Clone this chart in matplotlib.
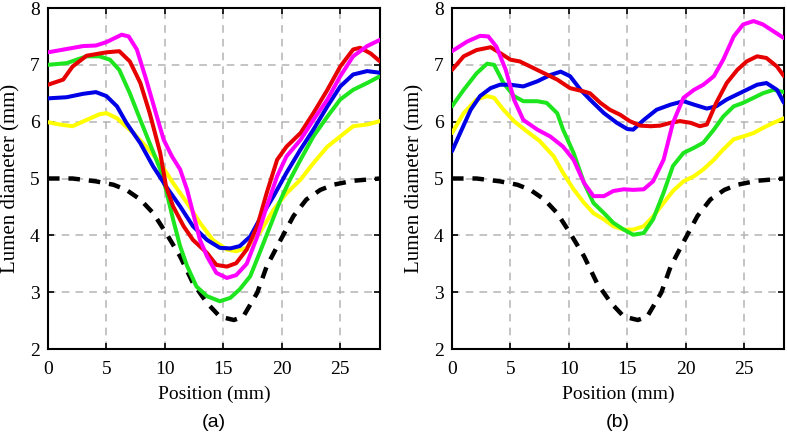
import matplotlib
matplotlib.use("Agg")
import matplotlib.pyplot as plt

# ---------------- data: panel (a) ----------------
a_mag_x = [0, 3, 4.1, 5, 6.3, 6.9, 7.6, 8.4, 9.3, 9.9, 10.6, 11.3, 11.9, 12.4, 13, 13.6, 14.4, 15.3, 16.1, 17, 17.9, 18.7, 19.6, 20.4, 21.6, 22.7, 23.9, 25, 26.1, 27.3, 28.4]
a_mag_y = [7.22, 7.33, 7.34, 7.4, 7.53, 7.5, 7.27, 6.74, 6.1, 5.68, 5.39, 5.16, 4.8, 4.4, 3.92, 3.63, 3.34, 3.25, 3.3, 3.5, 3.98, 4.5, 5.04, 5.39, 5.68, 6.03, 6.39, 6.8, 7.15, 7.33, 7.44]

a_red_x = [0, 1.3, 2.1, 3.3, 5, 6.1, 7, 7.9, 8.7, 9.6, 10.1, 10.7, 11.6, 12.4, 13.6, 14.4, 15.3, 16.1, 17, 17.9, 18.7, 19.6, 20.4, 21.6, 22.7, 23.9, 25, 26.1, 26.7, 27.6, 28.4]
a_red_y = [6.65, 6.74, 6.97, 7.16, 7.22, 7.24, 7.06, 6.68, 6.15, 5.45, 4.86, 4.51, 4.16, 3.92, 3.69, 3.48, 3.45, 3.51, 3.75, 4.16, 4.74, 5.33, 5.56, 5.8, 6.15, 6.56, 6.97, 7.27, 7.3, 7.2, 7.06]

a_grn_x = [0, 1.6, 3.3, 4.4, 5.3, 6.1, 7, 7.9, 8.7, 9.6, 10.1, 10.7, 11.3, 11.9, 12.7, 13.6, 14.7, 15.6, 16.4, 17.3, 18.1, 19, 19.9, 20.7, 21.6, 22.7, 23.9, 25, 26.1, 27.3, 28.4]
a_grn_y = [7.0, 7.03, 7.15, 7.15, 7.09, 6.91, 6.5, 6.03, 5.62, 5.16, 4.8, 4.28, 3.81, 3.46, 3.1, 2.93, 2.84, 2.9, 3.05, 3.28, 3.69, 4.16, 4.63, 4.98, 5.33, 5.74, 6.09, 6.39, 6.56, 6.68, 6.8]

a_blu_x = [0, 1.6, 3, 4.1, 5, 5.9, 6.7, 7.9, 9, 10.1, 11.3, 12.4, 13.6, 14.7, 15.6, 16.4, 17.3, 18.1, 19.3, 20.4, 21.6, 22.7, 23.9, 25, 26.1, 27.3, 28.4]
a_blu_y = [6.41, 6.43, 6.49, 6.52, 6.45, 6.27, 5.98, 5.62, 5.21, 4.86, 4.51, 4.16, 3.92, 3.78, 3.77, 3.81, 3.98, 4.28, 4.69, 5.1, 5.51, 5.86, 6.27, 6.62, 6.83, 6.89, 6.86]

a_yel_x = [0, 1, 2.1, 3.3, 4.4, 5, 5.9, 7.3, 8.4, 9.6, 10.7, 11.9, 13, 14.1, 15.3, 16.1, 17, 18.1, 19.3, 20.4, 21.6, 22.7, 23.9, 25, 26.1, 27.3, 28.4]
a_yel_y = [5.99, 5.95, 5.92, 6.03, 6.13, 6.15, 6.06, 5.8, 5.56, 5.27, 4.92, 4.57, 4.22, 3.92, 3.75, 3.72, 3.78, 4.04, 4.45, 4.74, 4.98, 5.27, 5.56, 5.74, 5.92, 5.95, 6.01]

# reference (stenosis) profile, dashed, same in both panels
ref_x = [0, 2.1, 4.1, 5.6, 6.7, 7.9, 9, 10.1, 11.3, 12.4, 13.6, 14.7, 15.9, 16.7, 17.9, 18.7, 19.9, 21, 22.1, 23.3, 24.4, 26.1, 28.4]
ref_y = [5.0, 5.0, 4.95, 4.89, 4.8, 4.63, 4.39, 4.04, 3.63, 3.16, 2.81, 2.57, 2.51, 2.57, 2.99, 3.45, 3.92, 4.34, 4.63, 4.8, 4.89, 4.96, 5.0]

# ---------------- data: panel (b) ----------------
b_mag_x = [0, 1.3, 2.4, 3.1, 3.8, 4.6, 5.3, 6.1, 7.3, 8.4, 9.5, 10.4, 11.3, 12.1, 13, 13.8, 14.7, 15.5, 16.4, 17.2, 18.1, 18.9, 19.8, 20.7, 21.5, 22.4, 23.2, 24.1, 24.9, 25.8, 26.6, 27.5, 28.4]
b_mag_y = [7.24, 7.41, 7.51, 7.5, 7.32, 6.91, 6.39, 6.03, 5.86, 5.74, 5.56, 5.33, 4.92, 4.69, 4.69, 4.78, 4.81, 4.8, 4.81, 4.95, 5.33, 5.98, 6.42, 6.56, 6.65, 6.8, 7.09, 7.5, 7.71, 7.77, 7.71, 7.59, 7.47]

b_red_x = [0, 1, 2.1, 3.3, 4.1, 5, 5.8, 6.7, 7.8, 9, 10.1, 11.3, 11.8, 12.7, 13.5, 14.4, 15.2, 16.1, 17, 17.8, 18.7, 19.5, 20.4, 21.2, 21.8, 22.6, 23.5, 24.4, 25.2, 26.1, 26.9, 27.8, 28.4]
b_red_y = [6.91, 7.15, 7.26, 7.31, 7.21, 7.09, 7.06, 6.97, 6.86, 6.74, 6.59, 6.53, 6.5, 6.33, 6.21, 6.12, 6.01, 5.93, 5.92, 5.93, 5.98, 6.01, 5.98, 5.92, 5.95, 6.33, 6.68, 6.91, 7.06, 7.15, 7.12, 6.97, 6.8]

b_grn_x = [0, 1, 2.1, 3, 3.6, 4.4, 5.3, 6.1, 7.3, 8.1, 9, 9.5, 10.4, 11.3, 12.1, 13, 13.8, 14.7, 15.5, 16.4, 17.2, 18.1, 18.9, 19.8, 20.7, 21.5, 22.4, 23.2, 24.1, 24.9, 25.8, 26.6, 27.5, 28.4]
b_grn_y = [6.27, 6.56, 6.85, 7.02, 7.0, 6.68, 6.45, 6.36, 6.36, 6.33, 6.15, 5.86, 5.45, 4.92, 4.57, 4.39, 4.22, 4.1, 4.01, 4.04, 4.28, 4.75, 5.22, 5.45, 5.54, 5.63, 5.86, 6.09, 6.27, 6.33, 6.42, 6.5, 6.56, 6.52]

b_blu_x = [0, 0.7, 1.6, 2.4, 3.3, 4.1, 5, 6.1, 7.3, 8.4, 9.3, 10.1, 11, 11.8, 13, 14.1, 15, 15.5, 16.4, 17.5, 18.7, 19.8, 20.7, 21.8, 22.6, 23.5, 24.4, 25.2, 26.1, 26.9, 27.8, 28.4]
b_blu_y = [5.48, 5.8, 6.21, 6.45, 6.59, 6.65, 6.65, 6.62, 6.71, 6.82, 6.88, 6.8, 6.56, 6.39, 6.15, 5.98, 5.87, 5.86, 6.03, 6.21, 6.3, 6.36, 6.3, 6.23, 6.27, 6.39, 6.48, 6.56, 6.65, 6.68, 6.56, 6.33]

b_yel_x = [0, 1, 2.1, 3, 3.6, 4.4, 5.3, 6.4, 7.5, 8.7, 9.5, 10.4, 11.3, 12.1, 13, 13.8, 14.7, 15.5, 16.4, 17.2, 18.1, 18.9, 19.8, 20.7, 21.5, 22.4, 23.2, 24.1, 24.9, 25.8, 26.6, 27.5, 28.4]
b_yel_y = [5.8, 6.15, 6.39, 6.45, 6.42, 6.21, 6.01, 5.83, 5.66, 5.39, 5.1, 4.81, 4.57, 4.39, 4.28, 4.16, 4.1, 4.1, 4.16, 4.33, 4.57, 4.78, 4.95, 5.04, 5.16, 5.33, 5.51, 5.69, 5.74, 5.8, 5.89, 5.98, 6.06]

x_ticks = [0, 5, 10, 15, 20, 25]
y_ticks = [2, 3, 4, 5, 6, 7, 8]
panel_labels = ["(a)", "(b)"]
x_label = "Position (mm)"
y_label = "Lumen diameter (mm)"

colors = {"mag": "#ff00ff", "red": "#e60000", "grn": "#1ee61e", "blu": "#0000e6", "yel": "#ffff00"}

panels = [
    [("mag", a_mag_x, a_mag_y), ("red", a_red_x, a_red_y), ("grn", a_grn_x, a_grn_y),
     ("blu", a_blu_x, a_blu_y), ("yel", a_yel_x, a_yel_y)],
    [("mag", b_mag_x, b_mag_y), ("red", b_red_x, b_red_y), ("grn", b_grn_x, b_grn_y),
     ("blu", b_blu_x, b_blu_y), ("yel", b_yel_x, b_yel_y)],
]
draw_order = ["yel", "grn", "blu", "red", "mag"]

fig = plt.figure(figsize=(7.87, 4.38), dpi=100)
serif = "Liberation Serif"
lefts = [48 / 787, 452 / 787]
for i, left in enumerate(lefts):
    ax = fig.add_axes([left, 1 - 349 / 438, 332 / 787, 341 / 438])
    ax.grid(True, color="#b4b4b4", linestyle=(0, (5, 4)), linewidth=1.1)
    ax.set_axisbelow(True)
    series = {k: (x, y) for k, x, y in panels[i]}
    ax.plot(ref_x, ref_y, color="black", linewidth=3.2, linestyle=(0, (2.6, 2.0)), zorder=3)
    for k in draw_order:
        x, y = series[k]
        ax.plot(x, y, color=colors[k], linewidth=2.9, solid_capstyle="round",
                solid_joinstyle="round", zorder=4)
    ax.set_xlim(0, 28.4)
    ax.set_ylim(2, 8)
    ax.set_xticks(x_ticks)
    ax.set_yticks(y_ticks)
    for sp in ax.spines.values():
        sp.set_linewidth(1.5)
    ax.tick_params(direction="in", top=True, right=True, length=4, width=1.2,
                   labelsize=14)
    ax.tick_params(axis="x", pad=9)
    ax.tick_params(axis="y", pad=6)
    for lab in ax.get_xticklabels() + ax.get_yticklabels():
        lab.set_fontfamily(serif)
    ax.set_xlabel(x_label, fontsize=14, family=serif, labelpad=5)
    ax.set_ylabel(y_label, fontsize=15, family=serif, labelpad=7)
    ax.text(0.5, -0.19, panel_labels[i], transform=ax.transAxes, ha="center", va="top",
            fontsize=14, family="Liberation Sans")

fig.savefig("out.png", dpi=100)
